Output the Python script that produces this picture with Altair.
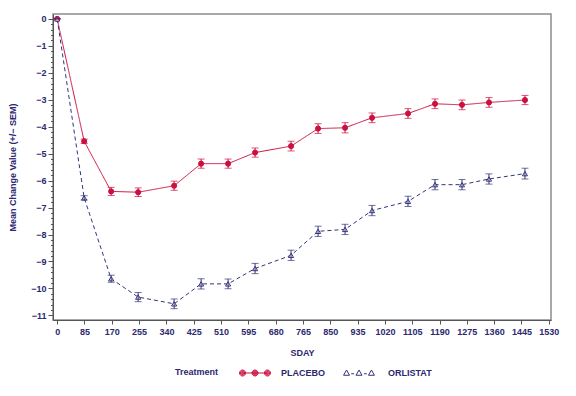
import altair as alt
import pandas as pd

# ---- data ----
days = [0, 84, 168, 252, 364, 448, 532, 616, 728, 812, 896, 980, 1092, 1176, 1260, 1344, 1456]
placebo_mean = [0, -4.54, -6.40, -6.43, -6.19, -5.37, -5.37, -4.96, -4.72, -4.07, -4.04,
                -3.67, -3.51, -3.15, -3.19, -3.10, -3.01]
placebo_sem = [0, 0.08, 0.15, 0.16, 0.17, 0.17, 0.17, 0.17, 0.18, 0.18, 0.19,
               0.18, 0.18, 0.18, 0.18, 0.18, 0.17]
orlistat_mean = [0, -6.64, -9.64, -10.32, -10.57, -9.83, -9.83, -9.26, -8.77, -7.88, -7.81,
                 -7.11, -6.77, -6.15, -6.15, -5.94, -5.74]
orlistat_sem = [0, 0.08, 0.13, 0.17, 0.18, 0.19, 0.18, 0.19, 0.19, 0.19, 0.19,
                0.19, 0.19, 0.19, 0.19, 0.19, 0.20]
treatments = ["PLACEBO", "ORLISTAT"]
x_ticks = list(range(0, 1531, 85))
y_minor = [round(-i * 0.2, 1) for i in range(0, 56)]

RED = "#cc1040"
NAVY = "#34337a"
TXT = "#2b2870"

rows = []
for t, means, sems in [("PLACEBO", placebo_mean, placebo_sem), ("ORLISTAT", orlistat_mean, orlistat_sem)]:
    for d, m, s in zip(days, means, sems):
        rows.append({"Day": d, "Mean": m, "SEM": s, "lo": m - s, "hi": m + s, "Treatment": t})
df = pd.DataFrame(rows)

xscale = alt.Scale(domain=[-13, 1537], nice=False, zero=False)
yscale = alt.Scale(domain=[-11.17, 0.18], nice=False, zero=False)
int_test = "abs(datum.value - round(datum.value)) < 0.01"
xaxis = alt.Axis(values=x_ticks, title="SDAY", format="d", tickSize=4, labelPadding=3, titlePadding=12)
yaxis = alt.Axis(values=y_minor, title="Mean Change Value (+/\u2212 SEM)",
                 labelExpr=f"{int_test} ? format(datum.value, 'd') : ''",
                 tickSize={"condition": {"test": int_test, "value": 5}, "value": 2.5},
                 labelPadding=2, titlePadding=13, labelOverlap=False)


def X():
    return alt.X("Day:Q", scale=xscale, axis=xaxis)


def Y(field):
    return alt.Y(field, scale=yscale, axis=yaxis)


color = alt.Color("Treatment:N", scale=alt.Scale(domain=treatments, range=[RED, NAVY]), legend=None)

base = alt.Chart(df)

line = base.mark_line(strokeWidth=1).encode(
    x=X(), y=Y("Mean:Q"), color=color,
    strokeDash=alt.StrokeDash("Treatment:N", scale=alt.Scale(domain=treatments, range=[[1, 0], [4, 3]]), legend=None),
)

points = base.mark_point(size=26, strokeWidth=1, opacity=1).encode(
    x=X(), y=Y("Mean:Q"), color=color,
    fill=alt.Fill("Treatment:N", scale=alt.Scale(domain=treatments, range=[RED, "white"]), legend=None),
    shape=alt.Shape("Treatment:N", scale=alt.Scale(domain=treatments, range=["circle", "triangle-up"]), legend=None),
)

rules = base.mark_rule(strokeWidth=1).encode(x=X(), y=Y("lo:Q"), y2="hi:Q", color=color)
cap_lo = base.mark_tick(orient="horizontal", size=7, thickness=1).encode(x=X(), y=Y("lo:Q"), color=color)
cap_hi = base.mark_tick(orient="horizontal", size=7, thickness=1).encode(x=X(), y=Y("hi:Q"), color=color)

# legend-only layers (their rows are filtered out, so they draw nothing in the plot)
# symbol unit = 7.5 px (symbolSize 225); paths span +/-2 units = 30 px wide
circ = lambda cx, r: f"M{cx - r:.2f},0 a{r},{r} 0 1,0 {2 * r:.2f},0 a{r},{r} 0 1,0 {-2 * r:.2f},0 "
p_path = "M-1.66,0 L1.66,0 " + "".join(circ(cx, r) for cx in (-1.66, 0, 1.66) for r in (0.4, 0.3, 0.2, 0.1))
o_path = ("M-1.66,-0.4 L-1.26,0.3 L-2.06,0.3 Z "
          "M0,-0.4 L0.4,0.3 L-0.4,0.3 Z "
          "M1.66,-0.4 L2.06,0.3 L1.26,0.3 Z "
          "M-1.04,0.1 L-0.66,0.1 M0.66,0.1 L1.04,0.1")

common_leg = dict(orient="none", legendY=351, direction="horizontal", symbolSize=225,
                  symbolStrokeWidth=1)
leg_a = alt.Legend(title="Treatment", legendX=122, titleOrient="left", titlePadding=28,
                   titleBaseline="middle", symbolType=p_path, labelOffset=18, **common_leg)
leg_b = alt.Legend(title=None, legendX=298, symbolType=o_path, labelOffset=21, **common_leg)

empty = base.transform_filter("datum.Day < -100")
legend_a = empty.mark_point(size=225, filled=False, strokeWidth=1, opacity=1).encode(
    color=alt.Color("Treatment:N", scale=alt.Scale(domain=["PLACEBO"], range=[RED]), legend=leg_a),
)
legend_b = empty.mark_point(size=225, filled=False, strokeWidth=1, opacity=1).encode(
    stroke=alt.Stroke("Treatment:N", scale=alt.Scale(domain=["ORLISTAT"], range=[NAVY]), legend=leg_b),
)

chart = alt.layer(line, points, rules, cap_lo, cap_hi, legend_a, legend_b).resolve_scale(
    color="independent"
).properties(
    width=498, height=306, autosize="none",
    padding={"left": 45, "top": 6, "right": 17, "bottom": 68},
).configure_view(
    stroke="#8c8c8c", strokeWidth=1.5
).configure_axis(
    grid=False, labelFont="Liberation Sans", titleFont="Liberation Sans",
    labelFontSize=9, titleFontSize=9, labelFontWeight="bold", titleFontWeight="bold",
    labelColor=TXT, titleColor=TXT, domainColor="#555555", tickColor="#555555",
).configure_legend(
    labelFont="Liberation Sans", titleFont="Liberation Sans", labelFontSize=9, titleFontSize=9,
    labelFontWeight="bold", titleFontWeight="bold", labelColor=TXT, titleColor=TXT,
)

chart.save("out.html", embed_options={"renderer": "svg", "actions": False})
